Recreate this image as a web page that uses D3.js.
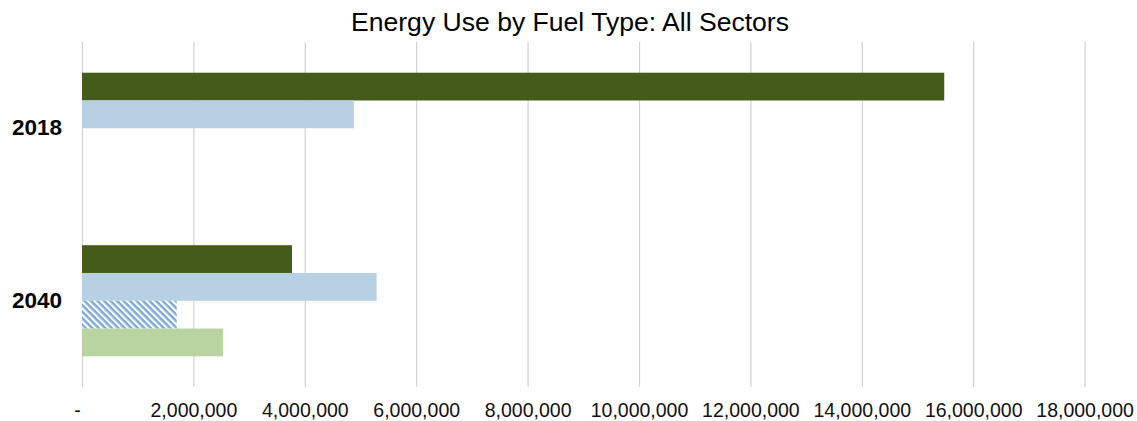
<!DOCTYPE html>
<html>
<head>
<meta charset="utf-8">
<script src="https://cdn.jsdelivr.net/npm/d3@7"></script>
<style>
  html, body { margin: 0; padding: 0; background: #fff; }
  svg { display: block; font-family: "Liberation Sans", Arial, sans-serif; }
</style>
</head>
<body>
<svg id="chart" width="1137" height="421"></svg>
<script>
// Energy use (units as reported) by fuel type, per year
const years = ["2018", "2040"];
const fuels = ["Fossil", "Electricity", "Electricity (renewable)", "Biofuel"];
const fossil = [15480000, 3770000];
const electricity = [4880000, 5290000];
const renewableElectricity = [0, 1700000];
const biofuel = [0, 2530000];
const tickValues = [0, 2000000, 4000000, 6000000, 8000000, 10000000, 12000000, 14000000, 16000000, 18000000];

const seriesValues = [fossil, electricity, renewableElectricity, biofuel];
const fills = ["#455b1a", "#b8d0e3", "url(#hatch)", "#b9d4a1"];

const svg = d3.select("#chart");
const W = 1137, H = 421;
const margin = { top: 42, right: 52, bottom: 34, left: 82 };

// diagonal hatch for renewable electricity
const defs = svg.append("defs");
const pat = defs.append("pattern")
  .attr("id", "hatch")
  .attr("patternUnits", "userSpaceOnUse")
  .attr("width", 4.6).attr("height", 4.6)
  .attr("patternTransform", "rotate(45)");
pat.append("rect").attr("width", 4.6).attr("height", 4.6).attr("fill", "#ffffff");
pat.append("rect").attr("width", 4.6).attr("height", 2.4).attr("fill", "#7ba9d6");

const x = d3.scaleLinear().domain([0, 18000000]).range([margin.left, margin.left + 111.4 * 9]);
const y = d3.scaleBand().domain(years).range([margin.top, H - margin.bottom]).paddingInner(0.356).paddingOuter(0.178);
const inner = d3.scaleBand().domain(fuels).range([0, y.bandwidth()]).padding(0);

// title
svg.append("text")
  .attr("x", 570).attr("y", 31)
  .attr("text-anchor", "middle")
  .attr("font-size", 25)
  .attr("textLength", 438)
  .attr("lengthAdjust", "spacingAndGlyphs")
  .attr("fill", "#000")
  .text("Energy Use by Fuel Type: All Sectors");

// vertical gridlines and value labels
const fmt = v => v === 0 ? "-" : d3.format(",")(v);
const xAxis = d3.axisBottom(x)
  .tickValues(tickValues)
  .tickSize(-(H - margin.bottom - margin.top))
  .tickFormat(fmt)
  .tickPadding(16);
const gx = svg.append("g")
  .attr("transform", `translate(0,${H - margin.bottom})`)
  .call(xAxis);
gx.select(".domain").remove();
gx.selectAll(".tick line").attr("stroke", "#d2d2d2").attr("stroke-width", 1.2);
gx.selectAll(".tick text")
  .attr("font-size", 19.5)
  .attr("fill", "#111")
  .attr("font-family", "Liberation Sans, Arial, sans-serif");
gx.selectAll(".tick text").filter(d => d === 0).attr("dx", -5);

// bars
const rows = [];
years.forEach((yr, i) => {
  fuels.forEach((f, j) => {
    rows.push({ year: yr, fuel: f, value: seriesValues[j][i], fill: fills[j] });
  });
});
svg.append("g").selectAll("rect")
  .data(rows.filter(d => d.value > 0))
  .join("rect")
  .attr("x", x(0))
  .attr("y", d => y(d.year) + inner(d.fuel))
  .attr("width", d => x(d.value) - x(0))
  .attr("height", inner.bandwidth())
  .attr("fill", d => d.fill);

// category labels
const yAxis = d3.axisLeft(y).tickSize(0).tickPadding(20);
const gy = svg.append("g")
  .attr("transform", `translate(${margin.left},0)`)
  .call(yAxis);
gy.select(".domain").remove();
gy.selectAll(".tick text")
  .attr("font-size", 22.5)
  .attr("font-weight", "bold")
  .attr("fill", "#000")
  .attr("font-family", "Liberation Sans, Arial, sans-serif");
</script>
</body>
</html>
